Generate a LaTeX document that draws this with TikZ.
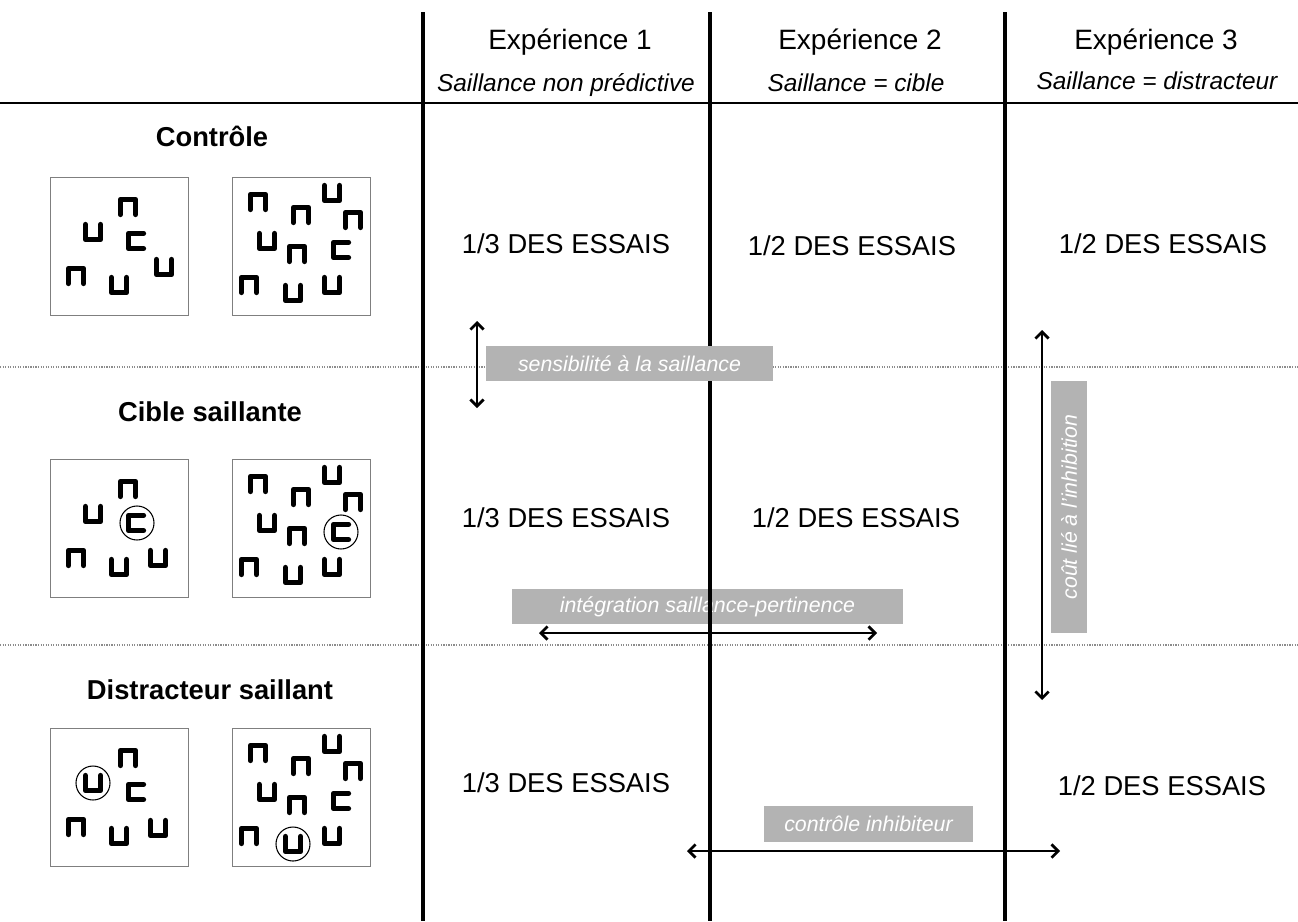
\documentclass[tikz,border=0pt]{standalone}
\usepackage{fontspec}
\setmainfont{Liberation Sans}
\usetikzlibrary{arrows.meta}
\definecolor{boxgray}{HTML}{B3B3B3}
\definecolor{framegray}{HTML}{7F7F7F}
\definecolor{sepgray}{HTML}{8C8C8C}
\tikzset{
 shp/.style={line width=3.8pt, line cap=round, line join=round},
 pics/sn/.style={code={\draw[shp] (-7.6,7.6)--(-7.6,-7.6)--(7.6,-7.6)--(7.6,7.6);}},
 pics/su/.style={code={\draw[shp] (-7.6,-7.6)--(-7.6,7.6)--(7.6,7.6)--(7.6,-7.6);}},
 pics/sc/.style={code={\draw[shp] (7.6,-7.6)--(-7.6,-7.6)--(-7.6,7.6)--(7.6,7.6);}},
 stimframe/.style={draw=framegray, line width=0.9pt, minimum width=104pt, minimum height=104pt, inner sep=0},
 ring/.style={draw, line width=0.8pt, circle, minimum size=25.5pt, inner sep=0},
 colline/.style={line width=2.4pt},
 hline/.style={line width=0.8pt},
 sepline/.style={draw=sepgray, line width=0.9pt, densely dotted},
 hdr/.style={font=\fontsize{21}{25}\selectfont, anchor=base},
 subhdr/.style={font=\fontsize{18.3}{22}\selectfont\itshape, anchor=base},
 rowlab/.style={font=\fontsize{20.5}{24}\selectfont\bfseries, anchor=base},
 cell/.style={font=\fontsize{20.5}{24}\selectfont, anchor=base},
 tag/.style={fill=boxgray, text=white, font=\fontsize{16}{19}\selectfont\itshape, inner sep=0},
 dbl/.style={line width=1.1pt, {Straight Barb[length=5pt,width=10pt,line width=2pt]}-{Straight Barb[length=5pt,width=10pt,line width=2pt]}},
}
\newcommand\stimpair[3]{%
 % #1 = y shift, #2 = x of right U in box 1, #3 = y of right U in box 1
 \begin{scope}[shift={(0,#1)}]
  \pic at (128,207) {sn};
  \pic at (93,232) {su};
  \pic at (136,241) {sc};
  \pic at (76,276) {sn};
  \pic at (119,285) {su};
  \pic at (#2,#3) {su};
  \pic at (258,202) {sn};
  \pic at (332,193) {su};
  \pic at (301,215) {sn};
  \pic at (353,220) {sn};
  \pic at (267,241) {su};
  \pic at (297,254) {sn};
  \pic at (341,250) {sc};
  \pic at (249,285) {sn};
  \pic at (293,293) {su};
  \pic at (332,285) {su};
 \end{scope}}
\begin{document}
\begin{tikzpicture}[x=0.75pt,y=-0.75pt]
\useasboundingbox (0,0) rectangle (1298,921);
% separators
\coordinate (hl) at (0,103); \coordinate (hr) at (1298,103);
\coordinate (s1l) at (0,367); \coordinate (s1r) at (1298,367);
\coordinate (s2l) at (0,645); \coordinate (s2r) at (1298,645);
\draw[hline] (hl) -- (hr);
\draw[sepline] (s1l) -- (s1r);
\draw[sepline] (s2l) -- (s2r);
% box under column line
\node[tag, minimum width=293pt, minimum height=26pt] (t2) at (707.5,606.5) {intégration saillance-pertinence};
% column lines
\coordinate (c1t) at (423,12); \coordinate (c1b) at (423,921);
\coordinate (c2t) at (710,12); \coordinate (c2b) at (710,921);
\coordinate (c3t) at (1005,12); \coordinate (c3b) at (1005,921);
\draw[colline] (c1t) -- (c1b);
\draw[colline] (c2t) -- (c2b);
\draw[colline] (c3t) -- (c3b);
% headers
\node[hdr] (h1) at (570,49) {Expérience 1};
\node[subhdr] (u1) at (566,91) {Saillance non prédictive};
\node[hdr] (h2) at (860,49) {Expérience 2};
\node[subhdr] (u2) at (856,91) {Saillance = cible};
\node[hdr] (h3) at (1156,49) {Expérience 3};
\node[subhdr] (u3) at (1157,89) {Saillance = distracteur};
% row labels
\node[rowlab] (r1) at (212,146) {Contrôle};
\node[rowlab] (r2) at (210,421) {Cible saillante};
\node[rowlab] (r3) at (210,699) {Distracteur saillant};
% cells
\node[cell] (a11) at (566,253) {1/3 DES ESSAIS};
\node[cell] (a12) at (852,255) {1/2 DES ESSAIS};
\node[cell] (a13) at (1163,253) {1/2 DES ESSAIS};
\node[cell] (a21) at (566,527) {1/3 DES ESSAIS};
\node[cell] (a22) at (856,527) {1/2 DES ESSAIS};
\node[cell] (a31) at (566,792) {1/3 DES ESSAIS};
\node[cell] (a33) at (1162,795) {1/2 DES ESSAIS};
% stimulus frames
\node[stimframe] (f11) at (119.5,246.5) {};
\node[stimframe] (f12) at (301.5,246.5) {};
\node[stimframe] (f21) at (119.5,528.5) {};
\node[stimframe] (f22) at (301.5,528.5) {};
\node[stimframe] (f31) at (119.5,797.5) {};
\node[stimframe] (f32) at (301.5,797.5) {};
\stimpair{0}{164}{267}
\stimpair{282}{158}{276}
\stimpair{551}{158}{277}
% rings
\node[ring] (o21) at (137,523) {};
\node[ring] (o22) at (341,532) {};
\node[ring] (o31) at (93,783) {};
\node[ring] (o32) at (293,844) {};
% tags on top
\node[tag, minimum width=215pt, minimum height=26pt] (t1) at (629.5,363.5) {sensibilité à la saillance};
\node[tag, rotate=90, minimum width=189pt, minimum height=27pt] (t3) at (1069,507) {coût lié à l'inhibition};
\node[tag, minimum width=157pt, minimum height=27pt] (t4) at (868.5,824) {contrôle inhibiteur};
% arrows
\coordinate (a1t) at (477,321); \coordinate (a1b) at (477,408);
\coordinate (a2l) at (539,633); \coordinate (a2r) at (877,633);
\coordinate (a3t) at (1042,330); \coordinate (a3b) at (1042,700);
\coordinate (a4l) at (687,851); \coordinate (a4r) at (1060,851);
\draw[dbl] (a1t) -- (a1b);
\draw[dbl] (a2l) -- (a2r);
\draw[dbl] (a3t) -- (a3b);
\draw[dbl] (a4l) -- (a4r);
\end{tikzpicture}
\end{document}
